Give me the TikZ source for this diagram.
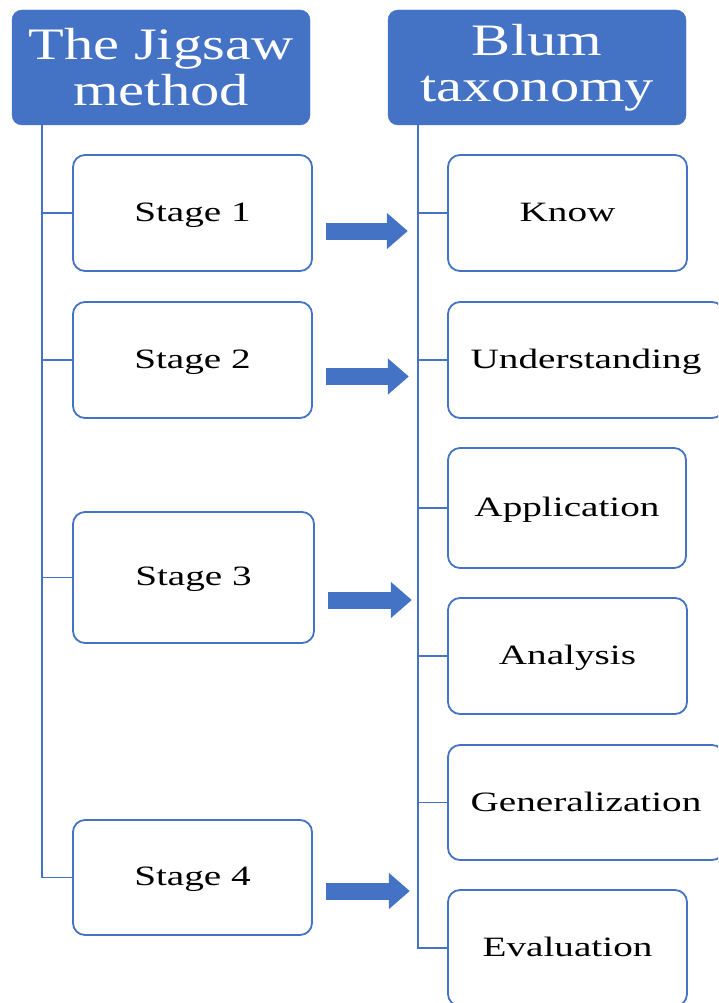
\documentclass[tikz,border=0pt]{standalone}
\usepackage{fontspec}
\usepackage{xcolor}
\usepackage{tikz}
\usetikzlibrary{positioning, calc, arrows.meta}
\newfontfamily\boxfont[FakeStretch=1.4]{Liberation Serif}
\newfontfamily\headfont[FakeStretch=1.3]{Liberation Serif}
\definecolor{OfficeBlue}{HTML}{4472C4}

\begin{document}
\begin{tikzpicture}[x=1pt, y=-1pt]
    \tikzset{HeadStyle/.style = {fill=OfficeBlue, draw=OfficeBlue, rounded corners=10pt, minimum width=298pt, minimum height=115pt, align=center, text=white, font=\headfont\fontsize{45}{46}\selectfont}}
    \tikzset{BoxStyle/.style = {draw=OfficeBlue, line width=1.8pt, rounded corners=12pt, fill=white, minimum width=239pt, minimum height=116pt, text depth=2pt, font=\boxfont\fontsize{28}{32}\selectfont}}
    \tikzset{TreeStyle/.style = {draw=OfficeBlue, line width=1.8pt}}
    \tikzset{ArrowStyle/.style = {line width=17pt, draw=OfficeBlue, -{Triangle[length=21pt 0 0, width=35pt 0 0]}}}
    \useasboundingbox (0,0) rectangle (718,1003);
    \clip (0,0) rectangle (718,1003);
    % headers
    \node[HeadStyle] (jig) at (161, 67.5) {The Jigsaw\\method};
    \node[HeadStyle] (blum) at (537, 67.5) {Blum\\taxonomy};
    % left column
    \node[BoxStyle] (st1) at (192.5, 213) {Stage 1};
    \node[BoxStyle] (st2) at (192.5, 360) {Stage 2};
    \node[BoxStyle, minimum width=241pt, minimum height=131pt] (st3) at (193.5, 577.5) {Stage 3};
    \node[BoxStyle, minimum height=115pt] (st4) at (192.5, 877.5) {Stage 4};
    % right column
    \node[BoxStyle] (kno) at (567.5, 213) {Know};
    \node[BoxStyle, minimum width=276pt] (und) at (586, 360) {Understanding};
    \node[BoxStyle, minimum width=238pt, minimum height=120pt] (app) at (567, 508) {Application};
    \node[BoxStyle] (ana) at (567.5, 656) {Analysis};
    \node[BoxStyle, minimum width=276pt, minimum height=115pt] (gen) at (586, 802.5) {Generalization};
    \node[BoxStyle] (eva) at (567.5, 948) {Evaluation};
    % trunks
    \coordinate (ltop) at ($(jig.south west)+(30,0)$);
    \coordinate (rtop) at ($(blum.south west)+(30,0)$);
    \draw[TreeStyle] (ltop) -- (ltop |- st4.west) -- (st4.west);
    \draw[TreeStyle] (ltop |- st1.west) -- (st1.west);
    \draw[TreeStyle] (ltop |- st2.west) -- (st2.west);
    \draw[TreeStyle] (ltop |- st3.west) -- (st3.west);
    \draw[TreeStyle] (rtop) -- (rtop |- eva.west) -- (eva.west);
    \draw[TreeStyle] (rtop |- kno.west) -- (kno.west);
    \draw[TreeStyle] (rtop |- und.west) -- (und.west);
    \draw[TreeStyle] (rtop |- app.west) -- (app.west);
    \draw[TreeStyle] (rtop |- ana.west) -- (ana.west);
    \draw[TreeStyle] (rtop |- gen.west) -- (gen.west);
    % block arrows
    \coordinate (a1s) at ($(st1.east)+(13,18)$);
    \coordinate (a1e) at ($(a1s -| rtop)+(-10,0)$);
    \coordinate (a2s) at ($(st2.east)+(13,16.5)$);
    \coordinate (a2e) at ($(a2s -| rtop)+(-9,0)$);
    \coordinate (a3s) at ($(st3.east)+(13,22.5)$);
    \coordinate (a3e) at ($(a3s -| rtop)+(-6,0)$);
    \coordinate (a4s) at ($(st4.east)+(13,13.5)$);
    \coordinate (a4e) at ($(a4s -| rtop)+(-8,0)$);
    \draw[ArrowStyle] (a1s) -- (a1e);
    \draw[ArrowStyle] (a2s) -- (a2e);
    \draw[ArrowStyle] (a3s) -- (a3e);
    \draw[ArrowStyle] (a4s) -- (a4e);
\end{tikzpicture}
\end{document}
